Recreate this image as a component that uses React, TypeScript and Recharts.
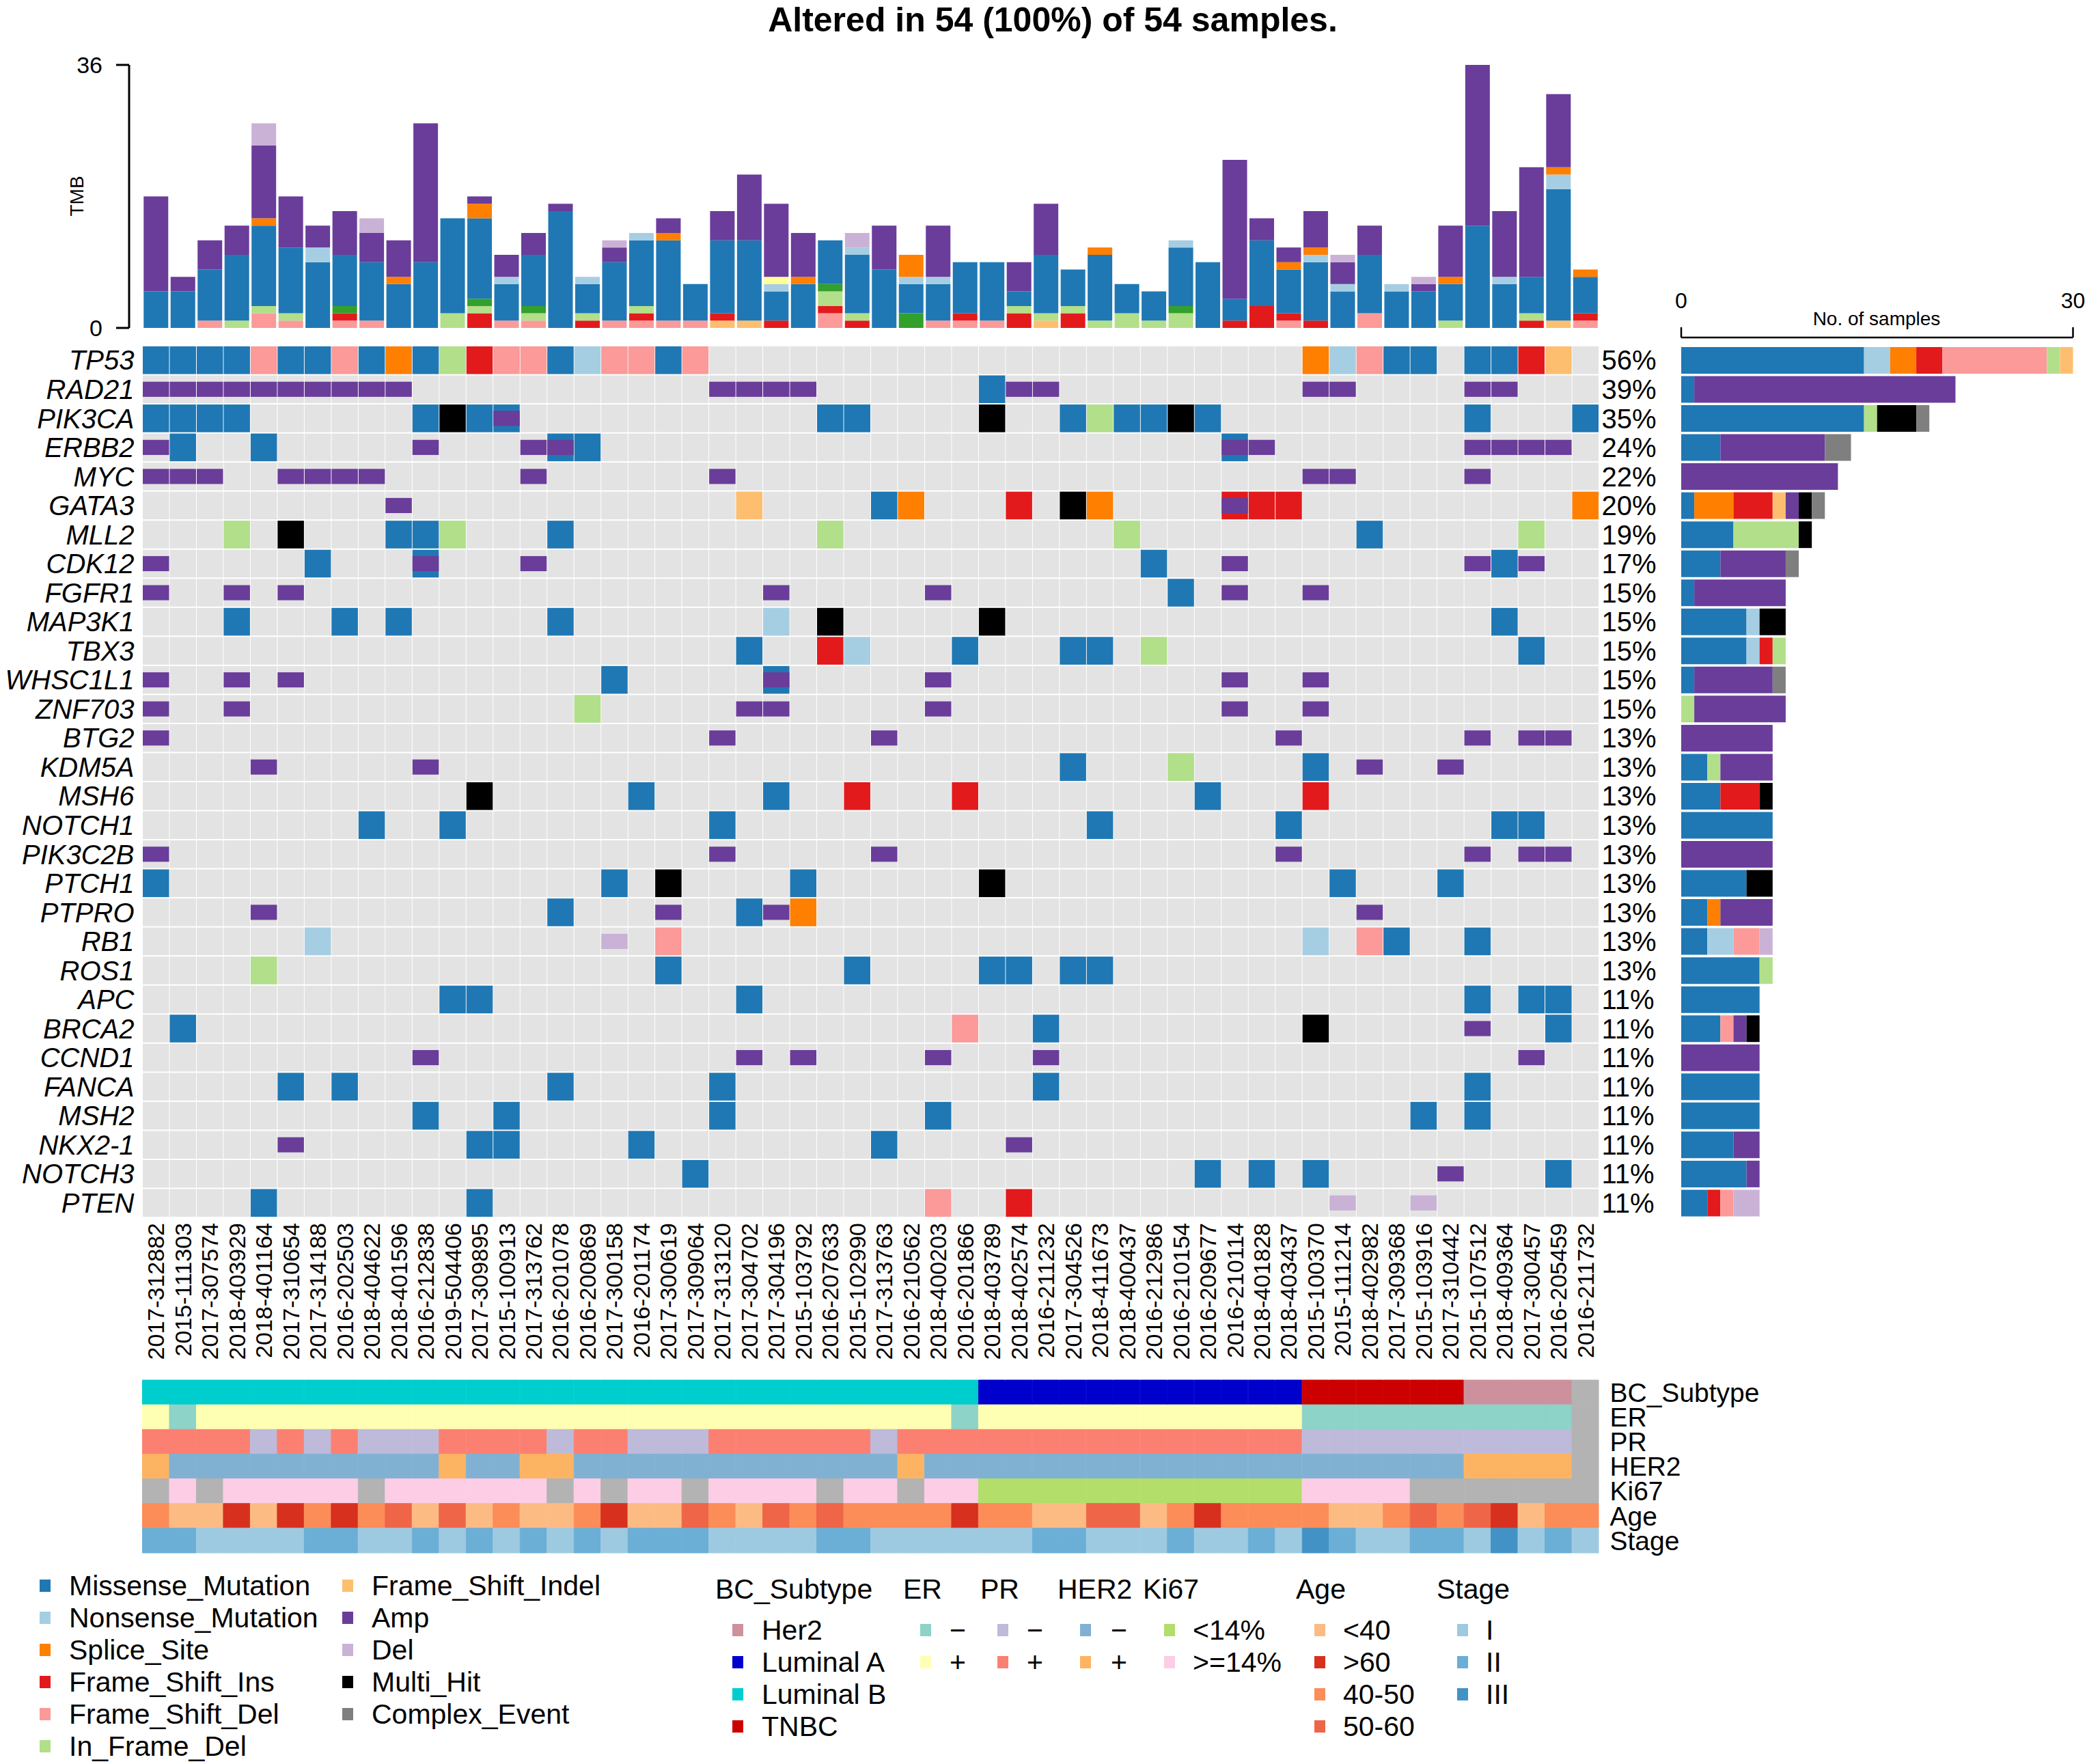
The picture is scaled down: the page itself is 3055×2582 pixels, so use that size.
import React from 'react'
import { BarChart, Bar, ScatterChart, Scatter, XAxis, YAxis, Cell } from 'recharts'

const FONT = '"Liberation Sans", Arial, Helvetica, sans-serif'

const SAMPLES = [
  '2017-312882', '2015-111303', '2017-307574', '2018-403929', '2018-401164', '2017-310654',
  '2017-314188', '2016-202503', '2018-404622', '2018-401596', '2016-212838', '2019-504406',
  '2017-309895', '2015-100913', '2017-313762', '2016-201078', '2016-200869', '2017-300158',
  '2016-201174', '2017-300619', '2017-309064', '2017-313120', '2017-304702', '2017-304196',
  '2015-103792', '2016-207633', '2015-102990', '2017-313763', '2016-210562', '2018-400203',
  '2016-201866', '2018-403789', '2018-402574', '2016-211232', '2017-304526', '2018-411673',
  '2018-400437', '2016-212986', '2016-210154', '2016-209677', '2016-210114', '2018-401828',
  '2018-403437', '2015-100370', '2015-111214', '2018-402982', '2017-309368', '2015-103916',
  '2017-310442', '2015-107512', '2018-409364', '2017-300457', '2016-205459', '2016-211732',
]

const GENES = [
  'TP53', 'RAD21', 'PIK3CA', 'ERBB2', 'MYC', 'GATA3', 'MLL2', 'CDK12', 'FGFR1', 'MAP3K1',
  'TBX3', 'WHSC1L1', 'ZNF703', 'BTG2', 'KDM5A', 'MSH6', 'NOTCH1', 'PIK3C2B', 'PTCH1', 'PTPRO',
  'RB1', 'ROS1', 'APC', 'BRCA2', 'CCND1', 'FANCA', 'MSH2', 'NKX2-1', 'NOTCH3', 'PTEN',
]

// one char per sample: M missense, N nonsense, S splice, I fs ins, D fs del, F in-frame del,
// X fs indel, A amp, L del, H multi hit, C missense+amp, R fs ins+amp, . none
const ONCO_ROWS = [
  'MMMMDMMDMS MFIDDMNDDM D......... .......... ...SNDMM.M MIX.',
  'AAAAAAAAAA .......... .AAAA..... .MAA...... ...AA....A A...',
  'MMMM...... MHMC...... .....MM... .H..MFMMHM .........M ...M',
  'AM..M..... A...ACM... .......... .......... CA.......A AAA.',
  'AAA..AAAA. ....A..... .A........ .......... ...AA....A ....',
  '.........A .......... ..X....MS. ..I.HS.... RII....... ...S',
  '...F.H...M MF...M.... .....F.... ......F... .....M.... .F..',
  'A.....M... C...A..... .......... .......M.. A........A MA..',
  'A..A.A.... .......... ...A.....A ........M. A..A...... ....',
  '...M...M.M .....M.... ...N.H.... .H........ .......... M...',
  '.......... .......... ..M..IN... M...MM.F.. .......... .M..',
  'A..A.A.... .......M.. ...C.....A .......... A..A...... ....',
  'A..A...... ......F... ..AA.....A .......... A..A...... ....',
  'A......... .......... .A.....A.. .......... ..A......A .AA.',
  '....A..... A......... .......... ....M...F. ...M.A..A. ....',
  '.......... ..H.....M. ...M..I... I........M ...I...... ....',
  '........M. .M........ .M........ .....M.... ..M....... MM..',
  'A......... .......... .A.....A.. .......... ..A......A .AA.',
  'M......... .......M.H ....M..... .H........ ....M...M. ....',
  '....A..... .....M...A ..MAS..... .......... .....A.... ....',
  '......N... .......L.D .......... .......... ...N.DM..M ....',
  '....F..... .........M ......M... .MM.MM.... .......... ....',
  '.......... .MM....... ..M....... .......... .........M .MM.',
  '.M........ .......... .......... D..M...... ...H.....A ..M.',
  '.......... A......... ..A.A....A ...A...... .......... .A..',
  '.....M.M.. .....M.... .M........ ...M...... .........M ....',
  '.......... M..M...... .M.......M .......... .......M.M ....',
  '.....A.... ..MM....M. .......M.. ..A....... .......... ....',
  '.......... .......... M......... .........M .M.M....A. ..M.',
  '....M..... ..M....... .........D ..I....... ....L..L.. ....',
].map(s => s.replace(/ /g, ''))

// TMB per sample, one array per variant class
const TMB_FSD = [0,0,1,0,2,1,0,1,1,0, 0,0,0,1,1,0,0,1,1,1, 1,0,0,0,0,2,0,0,0,1, 1,1,0,0,0,0,0,0,0,0, 0,0,1,0,0,2,0,0,0,0, 0,0,0,1]
const TMB_FSX = [0,0,0,0,0,0,0,0,0,0, 0,0,0,0,0,0,0,0,0,0, 0,1,1,0,0,0,0,0,0,0, 0,0,0,1,0,0,0,0,0,0, 0,0,0,0,0,0,0,0,0,0, 0,0,1,0]
const TMB_FSI = [0,0,0,0,0,0,0,1,0,0, 0,0,2,0,0,0,1,0,1,0, 0,1,0,1,0,1,1,0,0,0, 1,0,2,0,2,0,0,0,0,0, 1,3,1,1,0,0,0,0,0,0, 0,1,0,1]
const TMB_IFD = [0,0,0,1,1,1,0,0,0,0, 0,2,1,0,1,0,1,0,1,0, 0,0,0,0,0,2,1,0,0,0, 0,0,1,1,1,1,2,1,2,0, 0,0,0,0,0,0,0,0,1,0, 0,1,0,0]
const TMB_IFI = [0,0,0,0,0,0,0,1,0,0, 0,0,1,0,1,0,0,0,0,0, 0,0,0,0,0,1,0,0,2,0, 0,0,0,0,0,0,0,0,1,0, 0,0,0,0,0,0,0,0,0,0, 0,0,0,0]
const TMB_MIS = [5,5,7,9,11,9,9,7,8,6, 9,13,11,5,7,16,4,8,9,11, 5,10,11,4,6,6,8,8,4,5, 7,8,2,8,5,9,4,4,8,9, 3,9,6,8,5,8,5,5,5,14, 6,5,18,5]
const TMB_NON = [0,0,0,0,0,0,2,0,0,0, 0,0,0,1,0,0,1,0,1,0, 0,0,0,1,0,0,1,0,1,1, 0,0,0,0,0,0,0,0,1,0, 0,0,0,1,1,0,1,0,0,0, 1,0,2,0]
const TMB_NST = [0,0,0,0,0,0,0,0,0,0, 0,0,0,0,0,0,0,0,0,0, 0,0,0,1,0,0,0,0,0,0, 0,0,0,0,0,0,0,0,0,0, 0,0,0,0,0,0,0,0,0,0, 0,0,0,0]
const TMB_SPL = [0,0,0,0,1,0,0,0,0,1, 0,0,2,0,0,0,0,0,0,1, 0,0,0,0,1,0,0,0,3,0, 0,0,0,0,0,1,0,0,0,0, 0,0,1,1,0,0,0,0,1,0, 0,0,1,1]
const TMB_AMP = [13,2,4,4,10,7,3,6,4,5, 19,0,1,3,3,1,0,2,0,2, 0,4,9,10,6,0,0,6,0,7, 0,0,4,7,0,0,0,0,0,0, 19,3,2,5,3,4,0,1,7,22, 9,15,10,0]
const TMB_DEL = [0,0,0,0,3,0,0,0,2,0, 0,0,0,0,0,0,0,1,0,0, 0,0,0,0,0,0,2,0,0,0, 0,0,0,0,0,0,0,0,0,0, 0,0,0,0,1,0,0,1,0,0, 0,0,0,0]

// clinical annotation, one char per sample ('.' = NA)
const SUBTYPE = 'BBBBBBBBBB BBBBBBBBBB BBBBBBBBBB BAAAAAAAAA AAATTTTTTH HHH.'.replace(/ /g, '')
const ER      = '+-++++++++ ++++++++++ ++++++++++ -+++++++++ +++------- ---.'.replace(/ /g, '')
const PR      = '++++-+-+-- -++++-++-- -++++++-++ ++++++++++ +++------- ---.'.replace(/ /g, '')
const HER2    = '+--------- -+--++---- --------+- ---------- ---------+ +++.'.replace(/ /g, '')
const KI67    = '.H.HHHHH.H HHHHH.H.HH .HHHH.HH.H HLLLLLLLLL LLLHHHH... ....'.replace(/ /g, '')
const AGE     = 'myyoyomomn ynymyymoyy nmynmnmmmm ommyynnymo mmmmyymnmn oymm'.replace(/ /g, '')
const STAGE   = '2211112211 2121212122 2111122111 1112211121 1213211221 3121'.replace(/ /g, '')

const COLORS: Record<string, string> = {
  Missense_Mutation: '#1F78B4', Nonsense_Mutation: '#A6CEE3', Splice_Site: '#FF7F00',
  Frame_Shift_Ins: '#E31A1C', Frame_Shift_Del: '#FB9A99', In_Frame_Del: '#B2DF8A',
  Frame_Shift_Indel: '#FDBF6F', Amp: '#6A3D9A', Del: '#CAB2D6', Multi_Hit: '#000000',
  Complex_Event: '#7F7F7F', In_Frame_Ins: '#33A02C', Nonstop_Mutation: '#FFFF99',
}
const NA_COL = '#B3B3B3'

const TRACKS = [
  { name: 'BC_Subtype', codes: SUBTYPE, colors: { B: '#00CDCD', A: '#0000CD', T: '#CD0000', H: '#CD919E' } as Record<string, string> },
  { name: 'ER', codes: ER, colors: { '-': '#8DD3C7', '+': '#FFFFB3' } as Record<string, string> },
  { name: 'PR', codes: PR, colors: { '-': '#BEBADA', '+': '#FB8072' } as Record<string, string> },
  { name: 'HER2', codes: HER2, colors: { '-': '#80B1D3', '+': '#FDB462' } as Record<string, string> },
  { name: 'Ki67', codes: KI67, colors: { L: '#B3DE69', H: '#FCCDE5' } as Record<string, string> },
  { name: 'Age', codes: AGE, colors: { y: '#FDBB84', o: '#D7301F', m: '#FC8D59', n: '#EF6548' } as Record<string, string> },
  { name: 'Stage', codes: STAGE, colors: { '1': '#9ECAE1', '2': '#6BAED6', '3': '#4292C6' } as Record<string, string> },
]

const TMB_SERIES: [string, number[]][] = [
  ['Frame_Shift_Del', TMB_FSD], ['Frame_Shift_Indel', TMB_FSX], ['Frame_Shift_Ins', TMB_FSI],
  ['In_Frame_Del', TMB_IFD], ['In_Frame_Ins', TMB_IFI], ['Missense_Mutation', TMB_MIS],
  ['Nonsense_Mutation', TMB_NON], ['Nonstop_Mutation', TMB_NST], ['Splice_Site', TMB_SPL],
  ['Amp', TMB_AMP], ['Del', TMB_DEL],
]

const CODE_CLASS: Record<string, string> = {
  M: 'Missense_Mutation', N: 'Nonsense_Mutation', S: 'Splice_Site', I: 'Frame_Shift_Ins',
  D: 'Frame_Shift_Del', F: 'In_Frame_Del', X: 'Frame_Shift_Indel', A: 'Amp', L: 'Del',
  H: 'Multi_Hit', C: 'Complex_Event', R: 'Complex_Event',
}
const FULL: Record<string, string> = {
  M: COLORS.Missense_Mutation, N: COLORS.Nonsense_Mutation, S: COLORS.Splice_Site,
  I: COLORS.Frame_Shift_Ins, D: COLORS.Frame_Shift_Del, F: COLORS.In_Frame_Del,
  X: COLORS.Frame_Shift_Indel, H: COLORS.Multi_Hit, C: COLORS.Missense_Mutation, R: COLORS.Frame_Shift_Ins,
}
const SMALL: Record<string, string> = { A: COLORS.Amp, L: COLORS.Del, C: COLORS.Amp, R: COLORS.Amp }

const BAR_ORDER = [
  'Missense_Mutation', 'Nonsense_Mutation', 'Splice_Site', 'Frame_Shift_Ins', 'Frame_Shift_Del',
  'In_Frame_Del', 'Frame_Shift_Indel', 'Amp', 'Del', 'Multi_Hit', 'Complex_Event',
]

// geometry of the oncoplot body
const GRID_L = 208.5, GRID_R = 2340.5, GRID_T = 506, GRID_B = 1782
const CW = (GRID_R - GRID_L) / SAMPLES.length
const RH = (GRID_B - GRID_T) / GENES.length

const tmbData = SAMPLES.map((s, i) => {
  const row: any = { s }
  TMB_SERIES.forEach(([k, arr]) => { row[k] = arr[i] })
  return row
})

const bgCells = GENES.flatMap((g, r) => SAMPLES.map((s, c) => ({ x: c + 0.5, y: r + 0.5 })))
const mutCells = GENES.flatMap((g, r) =>
  ONCO_ROWS[r].split('').map((code, c) => ({ x: c + 0.5, y: r + 0.5, code })).filter(d => d.code !== '.'))

const barData = GENES.map((gene, r) => {
  const row: any = { gene, total: 0 }
  BAR_ORDER.forEach(k => { row[k] = 0 })
  ONCO_ROWS[r].split('').forEach(ch => {
    if (ch !== '.') { row[CODE_CLASS[ch]]++; row.total++ }
  })
  return row
})
const PCT = barData.map(d => Math.round((d.total / SAMPLES.length) * 100) + '%')

const annData = SAMPLES.map((s, i) => {
  const row: any = { s }
  TRACKS.forEach((t, k) => { row['t' + k] = 1 })
  return row
})

const colTicks = SAMPLES.map((s, i) => i + 0.5)
const rowTicks = GENES.map((g, i) => i + 0.5)
const trackTicks = TRACKS.map((t, i) => i + 0.5)

const BgCell = (p: any) => (
  <rect x={p.cx - CW / 2 + 0.5} y={p.cy - RH / 2 + 1} width={CW - 1} height={RH - 2} fill="#E3E3E3" />
)

const MutCell = (p: any) => {
  const code = p.payload.code
  const x = p.cx - CW / 2 + 0.5
  return (
    <g>
      {FULL[code] && <rect x={x} y={p.cy - RH / 2 + 1} width={CW - 1} height={RH - 2} fill={FULL[code]} />}
      {SMALL[code] && <rect x={x} y={p.cy - RH * 0.26} width={CW - 1} height={RH * 0.52} fill={SMALL[code]} />}
    </g>
  )
}

const SampleTick = (p: any) => (
  <text transform={`translate(${p.x},${p.y}) rotate(-90)`} textAnchor="end" dominantBaseline="central"
    fontSize={34} fontFamily={FONT} fill="#000">
    {SAMPLES[Math.floor(p.payload.value)]}
  </text>
)

const LEG1 = ['Missense_Mutation', 'Nonsense_Mutation', 'Splice_Site', 'Frame_Shift_Ins', 'Frame_Shift_Del', 'In_Frame_Del']
const LEG2 = ['Frame_Shift_Indel', 'Amp', 'Del', 'Multi_Hit', 'Complex_Event']
const LEG_Y = [2321, 2368, 2415, 2462, 2509, 2556]

const ANN_LEGEND = [
  { title: 'BC_Subtype', tx: 1047, sx: 1072, lx: 1115, items: [['Her2', '#CD919E'], ['Luminal A', '#0000CD'], ['Luminal B', '#00CDCD'], ['TNBC', '#CD0000']] },
  { title: 'ER', tx: 1322, sx: 1347, lx: 1390, items: [['\u2212', '#8DD3C7'], ['+', '#FFFFB3']] },
  { title: 'PR', tx: 1435, sx: 1460, lx: 1503, items: [['\u2212', '#BEBADA'], ['+', '#FB8072']] },
  { title: 'HER2', tx: 1548, sx: 1581, lx: 1626, items: [['\u2212', '#80B1D3'], ['+', '#FDB462']] },
  { title: 'Ki67', tx: 1673, sx: 1704, lx: 1746, items: [['<14%', '#B3DE69'], ['>=14%', '#FCCDE5']] },
  { title: 'Age', tx: 1897, sx: 1924, lx: 1966, items: [['<40', '#FDBB84'], ['>60', '#D7301F'], ['40-50', '#FC8D59'], ['50-60', '#EF6548']] },
  { title: 'Stage', tx: 2103, sx: 2133, lx: 2175, items: [['I', '#9ECAE1'], ['II', '#6BAED6'], ['III', '#4292C6']] },
]
const ANN_Y = [2386, 2433, 2480, 2527]

export default function App() {
  return (
    <div style={{ position: 'absolute', left: 0, top: 0, width: 3055, height: 2582, background: '#fff', overflow: 'hidden', fontFamily: FONT }}>

      {/* TMB stacked bars */}
      <div style={{ position: 'absolute', left: 0, top: 0 }}>
        <BarChart width={2400} height={520} data={tmbData} margin={{ top: 95, right: 59.5, bottom: 40, left: 129 }} barCategoryGap="4.5%">
          <XAxis dataKey="s" hide padding={{ left: 19.5, right: 0 }} />
          <YAxis domain={[0, 36]} ticks={[0, 36]} width={60} tickSize={19} tickMargin={20}
            axisLine={{ stroke: '#000', strokeWidth: 3 }} tickLine={{ stroke: '#000', strokeWidth: 3 }}
            tick={{ fontSize: 34, fill: '#000', fontFamily: FONT }} />
          {TMB_SERIES.map(([k]) => (
            <Bar key={k} dataKey={k} stackId="t" fill={COLORS[k]} isAnimationActive={false} />
          ))}
        </BarChart>
      </div>

      {/* oncoplot body */}
      <div style={{ position: 'absolute', left: 0, top: 0 }}>
        <ScatterChart width={2460} height={2020} margin={{ top: 506, right: 9.5, bottom: 18, left: 8.5 }}>
          <XAxis type="number" dataKey="x" domain={[0, 54]} ticks={colTicks} interval={0} height={220}
            axisLine={false} tickLine={false} tickSize={0} tickMargin={8} tick={SampleTick} />
          <YAxis yAxisId="g" type="number" dataKey="y" domain={[0, 30]} reversed ticks={rowTicks} interval={0}
            width={200} axisLine={false} tickLine={false} tickSize={0} tickMargin={12}
            tickFormatter={(v: number) => GENES[Math.floor(v)]}
            tick={{ fontSize: 40, fontStyle: 'italic', fill: '#000', fontFamily: FONT }} />
          <YAxis yAxisId="p" orientation="right" type="number" dataKey="y" domain={[0, 30]} reversed ticks={rowTicks} interval={0}
            width={110} axisLine={false} tickLine={false} tickSize={0} tickMargin={4}
            tickFormatter={(v: number) => PCT[Math.floor(v)]}
            tick={{ fontSize: 40, fill: '#000', fontFamily: FONT }} />
          <Scatter yAxisId="p" data={bgCells} shape={BgCell} isAnimationActive={false} />
          <Scatter yAxisId="g" data={mutCells} shape={MutCell} isAnimationActive={false} />
        </ScatterChart>
      </div>

      {/* per-gene sample counts */}
      <div style={{ position: 'absolute', left: 2400, top: 400 }}>
        <BarChart layout="vertical" width={655} height={1400} data={barData}
          margin={{ top: 34, right: 20.5, bottom: 18, left: 61 }} barCategoryGap="4.6%">
          <XAxis type="number" orientation="top" domain={[0, 30]} ticks={[0, 30]} height={60}
            tickSize={15} tickMargin={28} axisLine={{ stroke: '#000', strokeWidth: 2.5 }}
            tickLine={{ stroke: '#000', strokeWidth: 2.5 }} tick={{ fontSize: 32, fill: '#000', fontFamily: FONT }} />
          <YAxis type="category" dataKey="gene" hide width={0} padding={{ top: 12, bottom: 0 }} />
          {BAR_ORDER.map(k => (
            <Bar key={k} dataKey={k} stackId="g" fill={COLORS[k]} isAnimationActive={false} />
          ))}
        </BarChart>
      </div>

      {/* clinical annotation tracks */}
      <div style={{ position: 'absolute', left: 0, top: 1980 }}>
        <BarChart width={2681} height={310} data={annData} margin={{ top: 40, right: 10.5, bottom: 17, left: 208.5 }}
          barCategoryGap={0} barGap={0}>
          <XAxis dataKey="s" hide />
          <YAxis orientation="right" type="number" domain={[0, 7]} reversed ticks={trackTicks} interval={0}
            width={330} axisLine={false} tickLine={false} tickSize={0} tickMargin={16}
            tickFormatter={(v: number) => TRACKS[Math.floor(v)].name}
            tick={{ fontSize: 39, fill: '#000', fontFamily: FONT }} />
          {TRACKS.map((t, k) => (
            <Bar key={t.name} dataKey={'t' + k} stackId="ann" isAnimationActive={false}>
              {SAMPLES.map((s, i) => {
                const c = t.colors[t.codes[i]] || NA_COL
                return <Cell key={i} fill={c} stroke={c} strokeWidth={1} />
              })}
            </Bar>
          ))}
        </BarChart>
      </div>

      {/* titles and legends */}
      <svg width={3055} height={2582} style={{ position: 'absolute', left: 0, top: 0, pointerEvents: 'none' }} fontFamily={FONT}>
        <text x={1541} y={46} textAnchor="middle" fontSize={50} fontWeight="bold">Altered in 54 (100%) of 54 samples.</text>
        <text transform="translate(122,287) rotate(-90)" textAnchor="middle" fontSize={28}>TMB</text>
        <text x={2747} y={476} textAnchor="middle" fontSize={28}>No. of samples</text>

        {LEG1.map((k, i) => (
          <g key={k}>
            <rect x={58} y={LEG_Y[i] - 9} width={16} height={18} fill={COLORS[k]} />
            <text x={101} y={LEG_Y[i] + 14} fontSize={41}>{k}</text>
          </g>
        ))}
        {LEG2.map((k, i) => (
          <g key={k}>
            <rect x={501} y={LEG_Y[i] - 9} width={16} height={18} fill={COLORS[k]} />
            <text x={544} y={LEG_Y[i] + 14} fontSize={41}>{k}</text>
          </g>
        ))}

        {ANN_LEGEND.map(g => (
          <g key={g.title}>
            <text x={g.tx} y={2340} fontSize={41}>{g.title}</text>
            {g.items.map(([lab, col], i) => (
              <g key={lab}>
                <rect x={g.sx} y={ANN_Y[i] - 9} width={16} height={18} fill={col} />
                <text x={g.lx} y={ANN_Y[i] + 14} fontSize={41}>{lab}</text>
              </g>
            ))}
          </g>
        ))}
      </svg>
    </div>
  )
}
